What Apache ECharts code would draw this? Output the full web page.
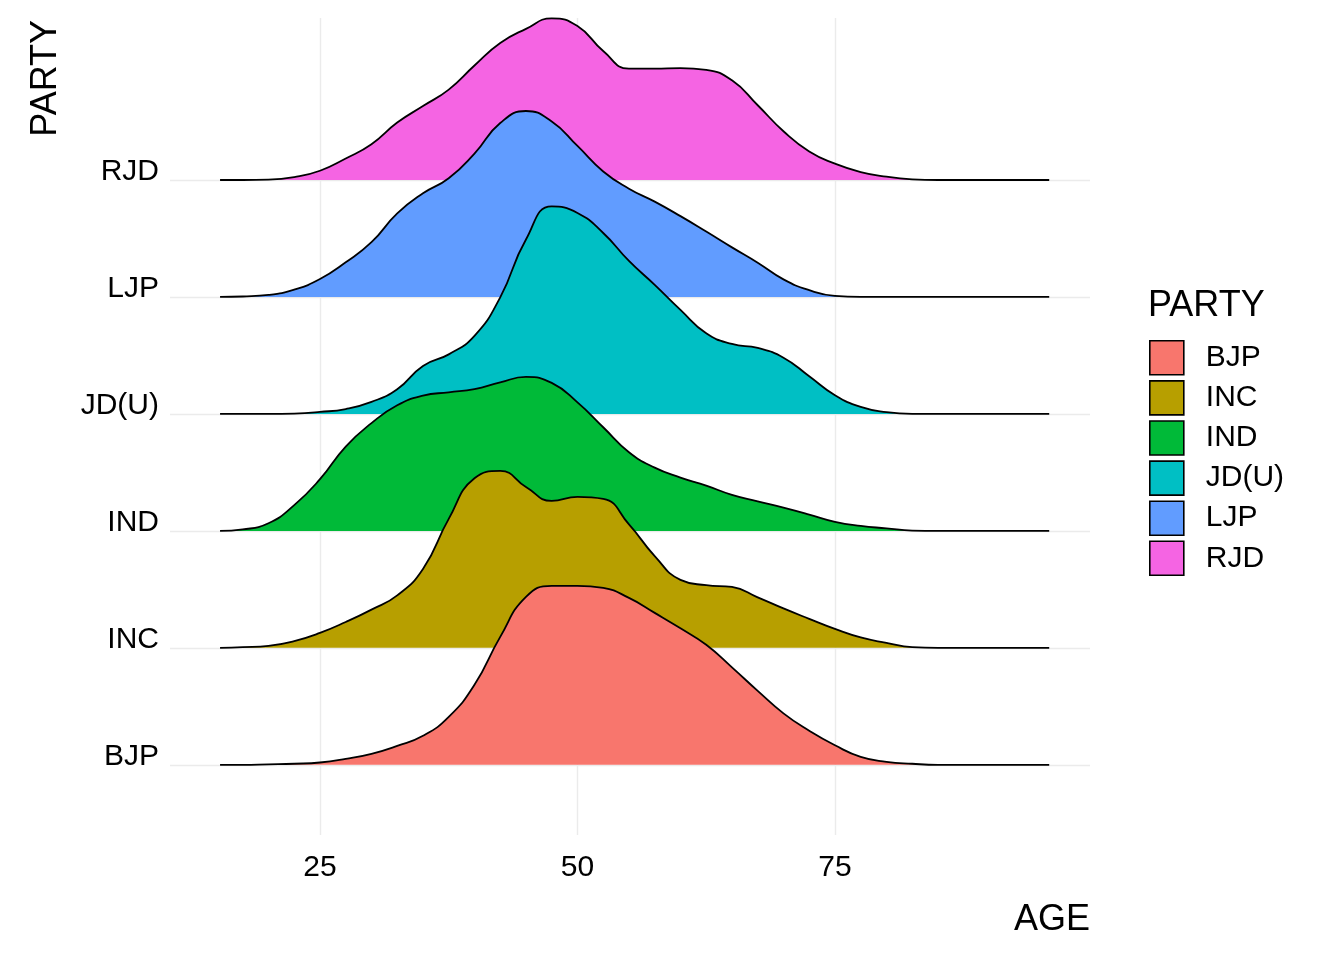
<!DOCTYPE html>
<html>
<head>
<meta charset="utf-8">
<title>AGE by PARTY</title>
<script src="https://cdn.jsdelivr.net/npm/echarts@6/dist/echarts.min.js"></script>
<style>
    html, body { margin: 0; padding: 0; background: #fff; }
    .echarts1 { width: 1344px; height: 960px; }
</style>
</head>
<body>
<div class="echarts1"></div>
<script>

// 类别和颜色
var parties = ['BJP', 'INC', 'IND', 'JD(U)', 'LJP', 'RJD'];
var colors = ['#F8766D', '#B79F00', '#00BA38', '#00BFC4', '#619CFF', '#F564E3'];

// 年龄采样点
var ages = [15.3, 17.5, 20, 22.5, 25, 27.5, 30, 32.5, 35, 37.5, 40, 42.5, 45, 47.5, 50, 52.5,
            55, 57.5, 60, 62.5, 65, 67.5, 70, 72.5, 75, 77.5, 80, 82.5, 85, 87.5, 90, 92.5, 95, 95.8];

// 各党派的密度高度（以行间距为单位）
var bjp = [0, 0, 0.004, 0.009, 0.02, 0.051, 0.094, 0.162, 0.248, 0.41, 0.684, 1.094, 1.436, 1.53, 1.53, 1.513,
           1.427, 1.299, 1.167, 1.026, 0.833, 0.632, 0.44, 0.291, 0.167, 0.068, 0.026, 0.009, 0, 0, 0, 0, 0, 0];
var inc = [0, 0.006, 0.017, 0.058, 0.128, 0.221, 0.327, 0.449, 0.675, 1.103, 1.45, 1.513, 1.376, 1.256, 1.291, 1.274,
           1.056, 0.785, 0.581, 0.536, 0.521, 0.432, 0.337, 0.248, 0.162, 0.089, 0.043, 0.006, 0, 0, 0, 0, 0, 0];
var ind = [0, 0.013, 0.065, 0.22, 0.442, 0.721, 0.921, 1.074, 1.156, 1.185, 1.212, 1.27, 1.316, 1.265, 1.099, 0.886,
           0.673, 0.541, 0.456, 0.387, 0.308, 0.253, 0.198, 0.139, 0.077, 0.042, 0.022, 0.003, 0, 0, 0, 0, 0, 0];
var jdu = [0, 0, 0, 0.003, 0.017, 0.042, 0.103, 0.211, 0.41, 0.509, 0.667, 0.997, 1.491, 1.774, 1.718, 1.547,
           1.308, 1.103, 0.889, 0.689, 0.598, 0.564, 0.481, 0.322, 0.16, 0.06, 0.015, 0, 0, 0, 0, 0, 0, 0];
var ljp = [0, 0.004, 0.017, 0.063, 0.153, 0.296, 0.468, 0.714, 0.886, 1.015, 1.226, 1.487, 1.59, 1.5, 1.291, 1.073,
           0.926, 0.815, 0.691, 0.559, 0.424, 0.293, 0.15, 0.058, 0.009, 0, 0, 0, 0, 0, 0, 0, 0, 0];
var rjd = [0, 0, 0.003, 0.025, 0.079, 0.184, 0.306, 0.491, 0.632, 0.773, 0.979, 1.171, 1.292, 1.382, 1.316, 1.103,
           0.953, 0.953, 0.957, 0.942, 0.852, 0.639, 0.417, 0.244, 0.14, 0.068, 0.028, 0.006, 0, 0, 0, 0, 0, 0];

var heights = [bjp, inc, ind, jdu, ljp, rjd];

// 刻度
var xTicks = [25, 50, 75];
var yTicks = [0, 1, 2, 3, 4, 5];

var fontFamily = '"Liberation Sans", Arial, sans-serif';

initEcharts();
function initEcharts() {

    var echarts1 = echarts.init(document.querySelector('.echarts1'), null, { renderer: 'canvas' });

    // 每个党派一条山脊，基线放在自己的行号上
    var series = parties.map(function (name, i) {
        return {
            name: name,
            type: 'line',
            z: 10 - i,
            smooth: 0.5,
            symbol: 'none',
            clip: false,
            itemStyle: { color: colors[i] },
            lineStyle: { color: '#000', width: 1.8 },
            areaStyle: { color: colors[i], opacity: 1, origin: i },
            data: ages.map(function (a, k) {
                return [a, i + heights[i][k]];
            })
        };
    });

    var option1 = {
        animation: false,
        backgroundColor: '#fff',
        grid: { left: 170, right: 254, top: 18, bottom: 125 },
        xAxis: {
            type: 'value',
            min: 10.44,
            max: 99.76,
            axisLine: { show: false },
            axisTick: { show: false, customValues: xTicks },
            axisLabel: {
                customValues: xTicks,
                fontSize: 30,
                color: '#000',
                fontFamily: fontFamily,
                margin: 18
            },
            splitLine: { show: true, lineStyle: { color: '#ebebeb', width: 1.4 } },
            minorSplitLine: { show: false }
        },
        yAxis: {
            type: 'value',
            min: -0.6,
            max: 6.385,
            axisLine: { show: false },
            axisTick: { show: false, customValues: yTicks },
            axisLabel: {
                customValues: yTicks,
                formatter: function (v) { return parties[Math.round(v)]; },
                fontSize: 30,
                color: '#000',
                fontFamily: fontFamily,
                margin: 11,
                verticalAlign: 'bottom',
                lineHeight: 16
            },
            splitLine: { show: true, lineStyle: { color: '#ebebeb', width: 1.4 } }
        },
        legend: {
            data: parties,
            orient: 'vertical',
            left: 1149,
            top: 340,
            padding: 0,
            icon: 'rect',
            itemWidth: 34,
            itemHeight: 34,
            itemGap: 4.5,
            itemStyle: { borderColor: '#000', borderWidth: 1.6 },
            selectedMode: false,
            textStyle: {
                fontSize: 30,
                color: '#000',
                fontFamily: fontFamily,
                padding: [0, 0, 0, 17]
            }
        },
        graphic: [
            {
                type: 'text', x: 1090, y: 920,
                style: { text: 'AGE', fill: '#000', font: '36px ' + fontFamily, align: 'right', verticalAlign: 'middle' }
            },
            {
                type: 'text', x: 46, y: 20, rotation: Math.PI / 2,
                style: { text: 'PARTY', fill: '#000', font: '36px ' + fontFamily, align: 'right', verticalAlign: 'middle' }
            },
            {
                type: 'text', x: 1148, y: 306,
                style: { text: 'PARTY', fill: '#000', font: '36px ' + fontFamily, align: 'left', verticalAlign: 'middle' }
            }
        ],
        series: series
    };

    // 使用刚指定的配置项和数据显示图表。
    echarts1.setOption(option1);
}
</script>
</body>
</html>
